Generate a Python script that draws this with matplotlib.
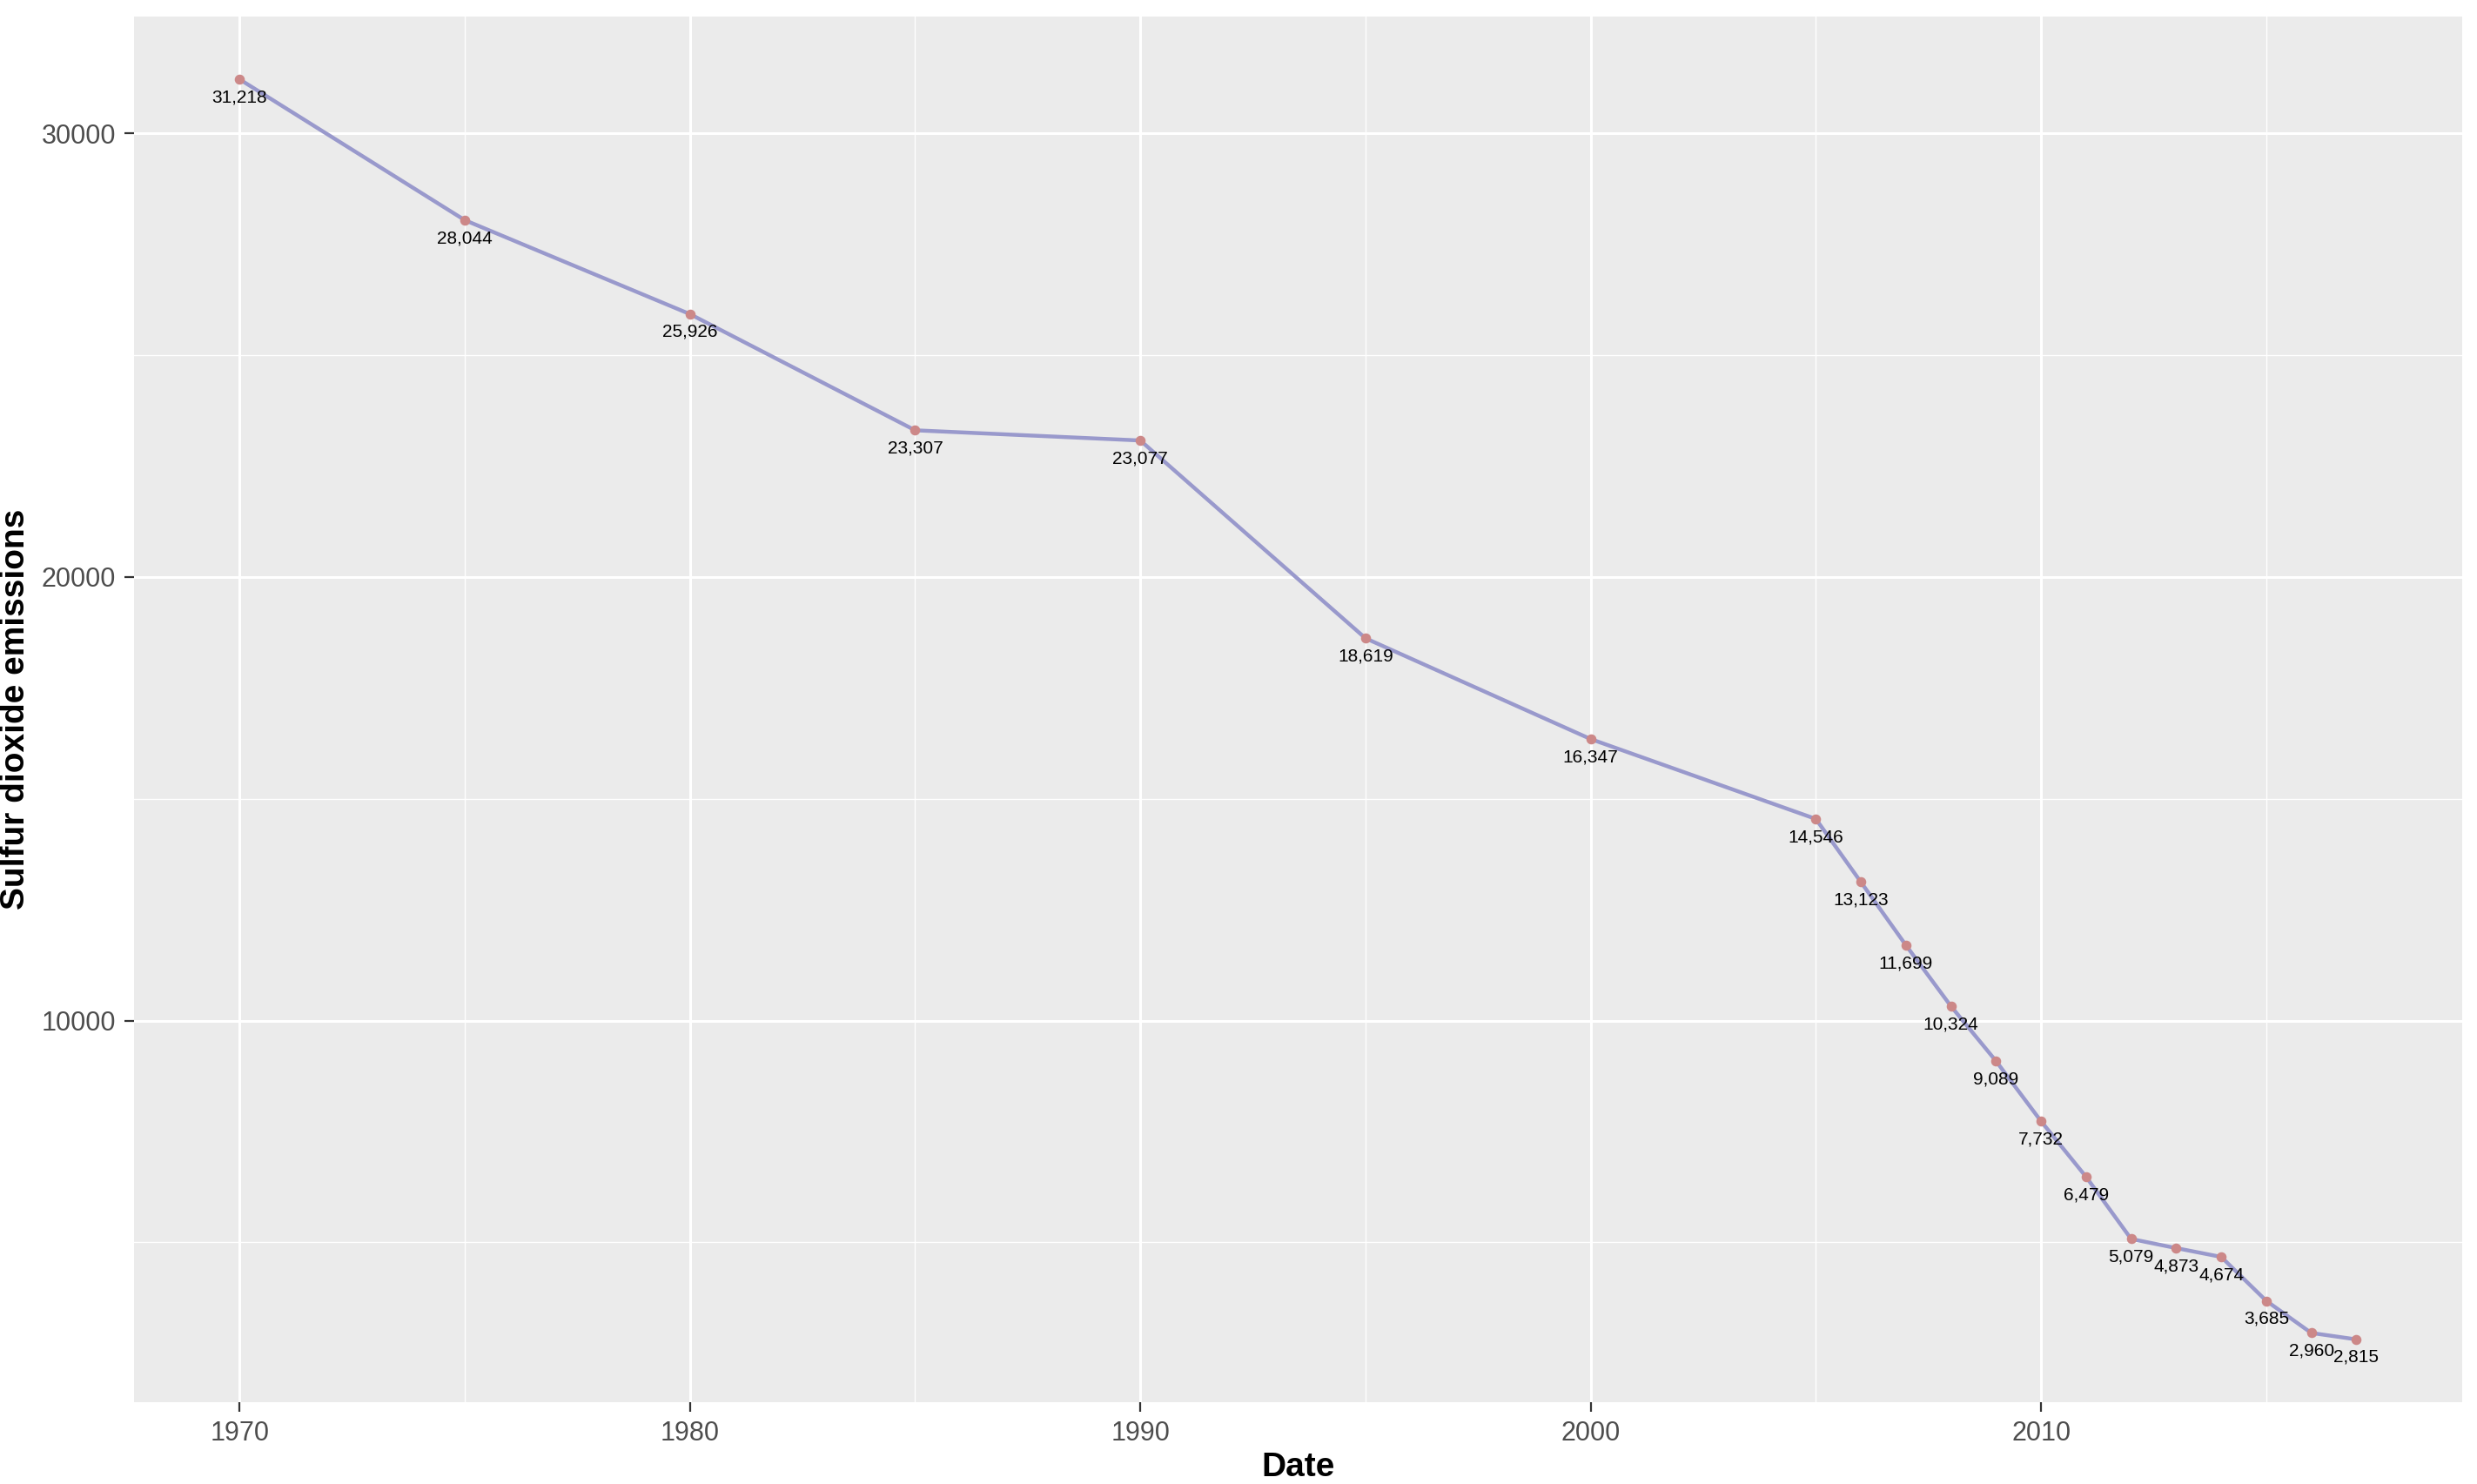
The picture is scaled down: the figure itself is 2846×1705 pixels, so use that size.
import matplotlib
matplotlib.use("Agg")
import matplotlib.pyplot as plt

years = [1970,1975,1980,1985,1990,1995,2000,2005,2006,2007,2008,2009,2010,2011,2012,2013,2014,2015,2016,2017]
values = [31218,28044,25926,23307,23077,18619,16347,14546,13123,11699,10324,9089,7732,6479,5079,4873,4674,3685,2960,2815]

plt.rcParams['font.family'] = ['Liberation Sans', 'DejaVu Sans']
fig = plt.figure(figsize=(14.23, 8.525), dpi=200)
ax = fig.add_axes([0.054, 0.055, 0.940, 0.934])
ax.set_facecolor('#EBEBEB')
for s in ax.spines.values():
    s.set_visible(False)
ax.set_xlim(1967.65, 2019.35)
ax.set_ylim(1395, 32638)
ax.set_xticks([1970,1980,1990,2000,2010])
ax.set_xticks([1975,1985,1995,2005,2015], minor=True)
ax.set_yticks([10000,20000,30000])
ax.set_yticks([5000,15000,25000], minor=True)
ax.grid(True, which='major', color='white', linewidth=1.1)
ax.grid(True, which='minor', color='white', linewidth=0.5)
ax.set_axisbelow(True)
ax.tick_params(which='major', length=4, color='#333333', labelsize=11, labelcolor='#4D4D4D')
ax.tick_params(which='minor', length=0)
ax.plot(years, values, color='#9999CC', linewidth=1.6, zorder=2)
ax.scatter(years, values, color='#CC8888', s=10, zorder=3)
for x, y in zip(years, values):
    ax.annotate(f"{y:,}", (x, y), xytext=(0, -4), textcoords='offset points',
                ha='center', va='top', fontsize=7.5, color='black')
ax.set_xlabel('Date', fontsize=14, fontweight='bold', labelpad=2)
ax.set_ylabel('Sulfur dioxide emissions', fontsize=14, fontweight='bold')
fig.savefig('out.png', dpi=200)
